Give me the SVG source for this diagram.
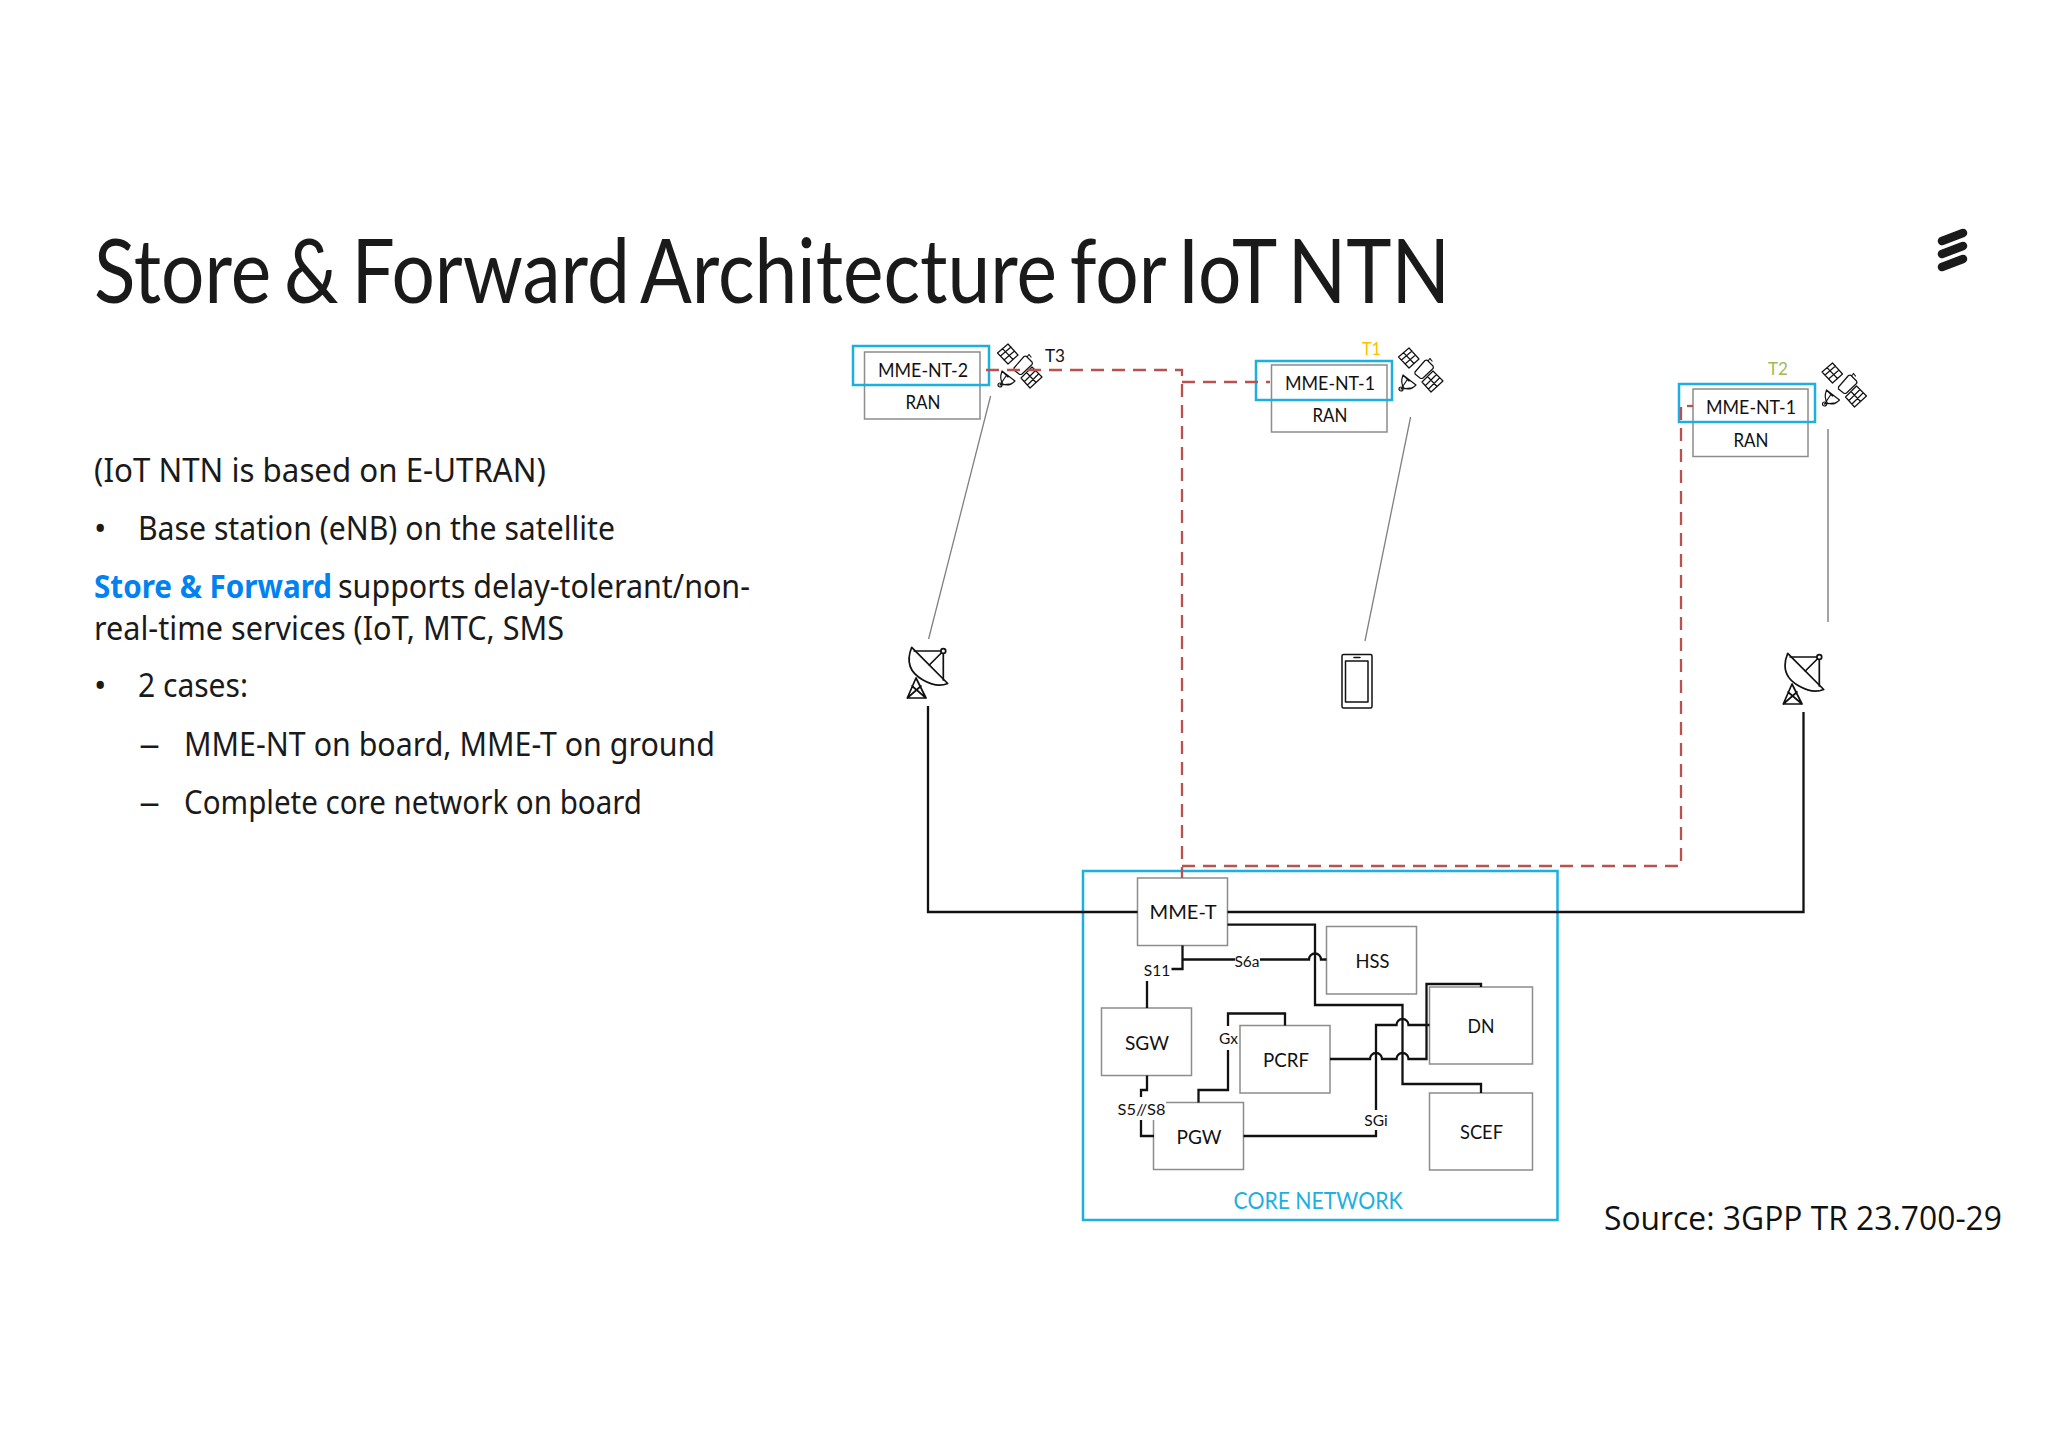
<svg xmlns="http://www.w3.org/2000/svg" width="2048" height="1448" viewBox="0 0 2048 1448">
<style>
text{font-family:"Lato","Liberation Sans",sans-serif;fill:#111}
.h{font-size:90px;font-weight:400;word-spacing:-8px;fill:#1a1a1a}
.b{font-size:33px;font-family:"Noto Sans","Liberation Sans",sans-serif;fill:#1a1a1a;font-weight:400}
.l{font-size:20px;text-anchor:middle}
.s{font-size:15.5px;text-anchor:middle}
.box{fill:#fff;stroke:#8c8c8c;stroke-width:1.5}
.blue{fill:none;stroke:#1cb0e2;stroke-width:2.5}
.k{fill:none;stroke:#111;stroke-width:2.3}
.g{fill:none;stroke:#808080;stroke-width:1.3}
.r{fill:none;stroke:#b9524f;stroke-width:2.3;stroke-dasharray:13 8}
.i{fill:none;stroke:#111;stroke-width:1.2;stroke-linejoin:round;stroke-linecap:round}
</style>
<defs>
<g id="sat" class="i">
<path d="M0.500 9L11 0L21 11L11 20Z M5.500 4.700L16 15.500 M3.500 12L14 3 M7 16L17.500 7"/>
<path d="M24 34L35 23L45 33L33 44Z M29.500 28.500L39 38.500 M27.500 37.500L38.500 26.500 M30.500 41L41.500 30"/>
<path d="M17 24L27 12.500Q29 11.500 30 13L35 18Q36 20 34.500 21L25 30Q23.500 31 22 30L17 26Z M30 13L32 10.500L34 13"/>
<path d="M5 27L18 37Q12 43 6 40Q2 35 5 27Z M5 27L11 33 M3 41L9 32 M3 41L12 40"/>
<circle cx="3" cy="41" r="2"/>
</g>
<g id="dish" class="i" style="stroke-width:1.700">
<path d="M4.700 0.300Q-4 22 16 33Q30 41 40.700 36.500Z"/>
<path d="M7.300 4H36.300V33 M36.300 4L22.300 18"/>
<circle cx="36.300" cy="4" r="2.400" fill="#fff"/>
<path d="M0.300 51H19L9 31Z M0.300 51L14 39 M19 51L5 39"/>
</g>
</defs>

<g id="title"><text class="h" x="94" y="303" textLength="1356" lengthAdjust="spacingAndGlyphs">Store &amp; Forward Architecture for IoT NTN</text></g>
<g id="logo" fill="none" stroke="#1a1a1a" stroke-width="8.500" stroke-linecap="round">
<path d="M1942 241L1963 233 M1942 254L1963 246 M1942 267L1963 259"/>
</g>
<g id="body">
<text class="b" x="94" y="482" textLength="452" lengthAdjust="spacingAndGlyphs">(IoT NTN is based on E-UTRAN)</text>
<text class="b" x="94" y="540">•</text>
<text class="b" x="138" y="540" textLength="477" lengthAdjust="spacingAndGlyphs">Base station (eNB) on the satellite</text>
<text class="b" x="94" y="598" textLength="238" lengthAdjust="spacingAndGlyphs" style="fill:#0082f0;font-weight:700">Store &amp; Forward</text>
<text class="b" x="338" y="598" textLength="412" lengthAdjust="spacingAndGlyphs">supports delay-tolerant/non-</text>
<text class="b" x="94" y="640" textLength="470" lengthAdjust="spacingAndGlyphs">real-time services (IoT, MTC, SMS</text>
<text class="b" x="94" y="697">•</text>
<text class="b" x="138" y="697" textLength="110" lengthAdjust="spacingAndGlyphs">2 cases:</text>
<text class="b" x="139" y="756" textLength="21" lengthAdjust="spacingAndGlyphs">–</text>
<text class="b" x="184" y="756" textLength="531" lengthAdjust="spacingAndGlyphs">MME-NT on board, MME-T on ground</text>
<text class="b" x="139" y="814" textLength="21" lengthAdjust="spacingAndGlyphs">–</text>
<text class="b" x="184" y="814" textLength="458" lengthAdjust="spacingAndGlyphs">Complete core network on board</text>
</g>
<g id="source"><text x="1604" y="1230" textLength="398" lengthAdjust="spacingAndGlyphs" style="font-family:'Open Sans',sans-serif;font-size:32px">Source: 3GPP TR 23.700-29</text></g>

<g id="node-mme-nt-2">
<rect class="box" x="864.500" y="352" width="115.500" height="67"/>
<rect class="blue" x="853" y="346" width="136" height="39"/>
<text class="l" x="923" y="377" textLength="90" lengthAdjust="spacingAndGlyphs" style="font-size:19px">MME-NT-2</text>
<text class="l" x="923" y="409" textLength="35" lengthAdjust="spacingAndGlyphs" style="font-size:19px">RAN</text>
</g>
<g id="node-sat-t3"><use href="#sat" x="997" y="344"/><text x="1045" y="362" style="font-size:18px" textLength="20" lengthAdjust="spacingAndGlyphs">T3</text></g>
<g id="node-mme-nt-1a">
<rect class="box" x="1271.500" y="365" width="115.500" height="67"/>
<rect class="blue" x="1256" y="361" width="136" height="39"/>
<text class="l" x="1330" y="390" textLength="90" lengthAdjust="spacingAndGlyphs" style="font-size:19px">MME-NT-1</text>
<text class="l" x="1330" y="422" textLength="35" lengthAdjust="spacingAndGlyphs" style="font-size:19px">RAN</text>
</g>
<g id="node-sat-t1"><use href="#sat" x="1398" y="348"/><text x="1362" y="355" style="font-size:18px;fill:#ffc000" textLength="19" lengthAdjust="spacingAndGlyphs">T1</text></g>
<g id="node-mme-nt-1b">
<rect class="box" x="1693" y="389" width="115" height="67.500"/>
<rect class="blue" x="1679" y="384" width="136" height="38"/>
<text class="l" x="1751" y="414" textLength="90" lengthAdjust="spacingAndGlyphs" style="font-size:19px">MME-NT-1</text>
<text class="l" x="1751" y="447" textLength="35" lengthAdjust="spacingAndGlyphs" style="font-size:19px">RAN</text>
</g>
<g id="node-sat-t2"><use href="#sat" x="1821.500" y="363"/><text x="1768" y="375" style="font-size:18px;fill:#9bbb59" textLength="20" lengthAdjust="spacingAndGlyphs">T2</text></g>
<g id="node-dish-left"><use href="#dish" x="907" y="647"/></g>
<g id="node-dish-right"><use href="#dish" x="1783" y="653"/></g>
<g id="node-phone" class="i" style="stroke-width:1.500">
<rect x="1342" y="654.500" width="30" height="53.500" rx="1.500"/>
<rect x="1345.500" y="661" width="22.500" height="41"/>
<path d="M1354 657.500H1360"/>
</g>

<g id="node-core"><rect class="blue" x="1083" y="871" width="474.500" height="349"/><text x="1318" y="1209" text-anchor="middle" textLength="169" lengthAdjust="spacingAndGlyphs" style="font-size:23px;fill:#1cb0e2">CORE NETWORK</text></g>
<g id="node-mme-t"><rect class="box" x="1137.500" y="878" width="90" height="67.500"/><text class="l" x="1183" y="919" textLength="67" lengthAdjust="spacingAndGlyphs">MME-T</text></g>
<g id="node-hss"><rect class="box" x="1326.500" y="926.500" width="90" height="67.500"/><text class="l" x="1372.500" y="968" textLength="34" lengthAdjust="spacingAndGlyphs">HSS</text></g>
<g id="node-sgw"><rect class="box" x="1101.500" y="1008" width="90" height="67.500"/><text class="l" x="1147" y="1050" textLength="44" lengthAdjust="spacingAndGlyphs">SGW</text></g>
<g id="node-pcrf"><rect class="box" x="1240" y="1025.500" width="90" height="67.500"/><text class="l" x="1286" y="1067" textLength="46" lengthAdjust="spacingAndGlyphs">PCRF</text></g>
<g id="node-pgw"><rect class="box" x="1153.500" y="1102.500" width="90" height="67"/><text class="l" x="1199" y="1144" textLength="45" lengthAdjust="spacingAndGlyphs">PGW</text></g>
<g id="node-dn"><rect class="box" x="1429.500" y="987" width="103" height="77"/><text class="l" x="1481" y="1033" textLength="27" lengthAdjust="spacingAndGlyphs">DN</text></g>
<g id="node-scef"><rect class="box" x="1429.500" y="1093" width="103" height="77"/><text class="l" x="1481.500" y="1139" textLength="43" lengthAdjust="spacingAndGlyphs">SCEF</text></g>

<g id="connectors">
<path class="g" d="M990.600 396L928.600 639 M1410.600 417L1365 641"/>
<path class="g" style="stroke-width:1.800;stroke:#999" d="M1828 429V622"/>
<path class="r" d="M986 370H1182V878"/>
<path class="r" d="M1182 382H1270"/>
<path class="r" d="M1681 407V866H1182"/>
<path class="r" d="M1687 406H1693"/>
<path class="k" d="M928 706V912H1137.500 M1227.500 912H1803.500V712"/>
<path class="k" d="M1227.500 924.700H1315V1005H1402.500V1084H1481V1093"/>
<path class="k" d="M1182.500 945.500V969H1171.500 M1147 981V1008"/>
<path class="k" d="M1182.500 959.500H1235 M1260 959.500H1309A6 6 0 0 1 1321 959.500H1326.500"/>
<path class="k" d="M1330 1059H1370A6 6 0 0 1 1382 1059H1396.500A6 6 0 0 1 1408.500 1059H1426.500V984H1481V987"/>
<path class="k" d="M1243.500 1136H1376V1130 M1376 1110V1025H1396.500A6 6 0 0 1 1408.500 1025H1429.500"/>
<path class="k" d="M1147 1075.500V1090H1141V1097 M1141 1120V1136H1154"/>
<path class="k" d="M1198.500 1102.500V1090H1228V1050 M1228 1026V1013.500H1285V1025.500"/>
</g>
<g id="connector-labels">
<text class="s" x="1157" y="976">S11</text>
<text class="s" x="1247" y="967">S6a</text>
<rect x="1116" y="1098" width="50" height="22" fill="#fff"/>
<text class="s" x="1141.500" y="1115" textLength="48" lengthAdjust="spacingAndGlyphs">S5//S8</text>
<text class="s" x="1228.500" y="1044">Gx</text>
<text class="s" x="1376" y="1126">SGi</text>
</g>
</svg>
